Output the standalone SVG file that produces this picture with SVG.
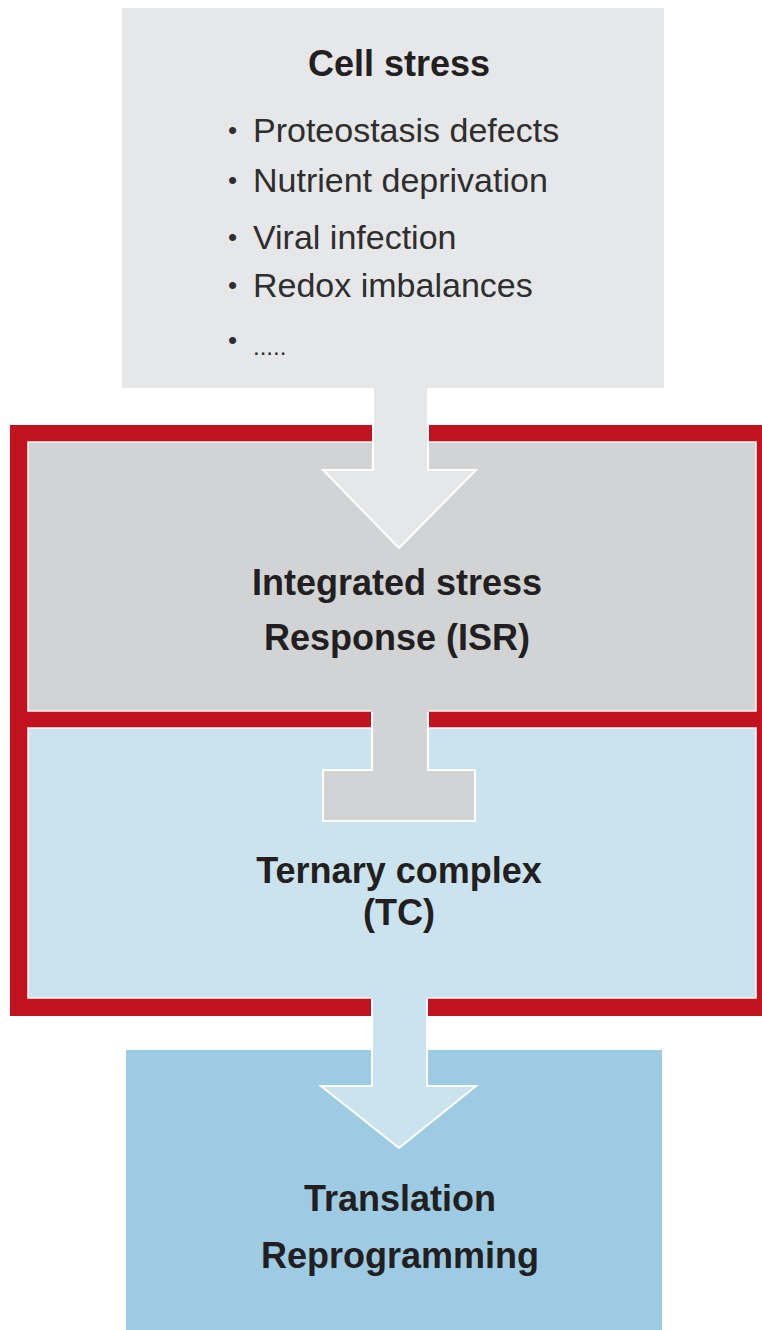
<svg xmlns="http://www.w3.org/2000/svg" width="762" height="1330" viewBox="0 0 762 1330">
  <style>
    .title { font-family: "Liberation Sans", Arial, sans-serif; font-weight: bold; font-size: 36px; fill: #231f20; text-anchor: middle; }
    .item { font-family: "Liberation Sans", Arial, sans-serif; font-size: 34px; fill: #2e2e2e; }
    .bullet { font-family: "Liberation Sans", Arial, sans-serif; font-size: 26px; fill: #2e2e2e; }
    .edge { fill: none; stroke: #ffffff; stroke-width: 2; stroke-linejoin: miter; }
    .boxline { stroke: #f4f4f4; stroke-width: 1.5; }
  </style>
  <rect width="762" height="1330" fill="#ffffff"/>

  <g id="cell-stress">
    <rect x="122" y="8" width="542" height="380" fill="#e6e7e8"/>
    <text class="title" x="399" y="76">Cell stress</text>
    <text class="bullet" x="228" y="139">•</text>
    <text class="item" x="253" y="142">Proteostasis defects</text>
    <text class="bullet" x="228" y="189">•</text>
    <text class="item" x="253" y="192">Nutrient deprivation</text>
    <text class="bullet" x="228" y="246">•</text>
    <text class="item" x="253" y="249">Viral infection</text>
    <text class="bullet" x="228" y="294">•</text>
    <text class="item" x="253" y="297">Redox imbalances</text>
    <text class="bullet" x="228" y="349">•</text>
    <text class="item" x="253" y="355" style="font-size:24px">.....</text>
  </g>

  <g id="isr-tc-frame">
    <rect x="10" y="425" width="760" height="591" fill="#c1121f"/>
  </g>

  <g id="isr">
    <rect class="boxline" x="28" y="442" width="728" height="269" fill="#d1d3d4"/>
    <text class="title" x="397" y="595">Integrated stress</text>
    <text class="title" x="397" y="650">Response (ISR)</text>
  </g>

  <g id="tc">
    <rect class="boxline" x="28" y="728" width="728" height="270" fill="#cbe3ef"/>
    <text class="title" x="399" y="883">Ternary complex</text>
    <text class="title" x="399" y="925">(TC)</text>
  </g>

  <g id="translation">
    <rect x="126" y="1050" width="536" height="290" fill="#9ccbe3"/>
    <text class="title" x="400" y="1211">Translation</text>
    <text class="title" x="400" y="1268">Reprogramming</text>
  </g>

  <g id="connectors">
    <g id="arrow-stress-isr">
      <path d="M373,387 L428,387 L428,470 L476,470 L399,548 L323,470 L373,470 Z" fill="#e6e7e8"/>
      <path class="edge" d="M428,389 L428,470 L476,470 L399,548 L323,470 L373,470 L373,389"/>
    </g>
    <g id="inhibit-isr-tc">
      <path d="M372,710 L428,710 L428,770 L475,770 L475,821 L323,821 L323,770 L372,770 Z" fill="#d1d3d4"/>
      <path class="edge" d="M428,712 L428,770 L475,770 L475,821 L323,821 L323,770 L372,770 L372,712"/>
    </g>
    <g id="arrow-tc-translation">
      <path d="M372,997 L427,997 L427,1086 L476,1086 L399,1148 L321,1086 L372,1086 Z" fill="#cbe3ef"/>
      <path class="edge" d="M427,999 L427,1086 L476,1086 L399,1148 L321,1086 L372,1086 L372,999"/>
    </g>
  </g>
</svg>
